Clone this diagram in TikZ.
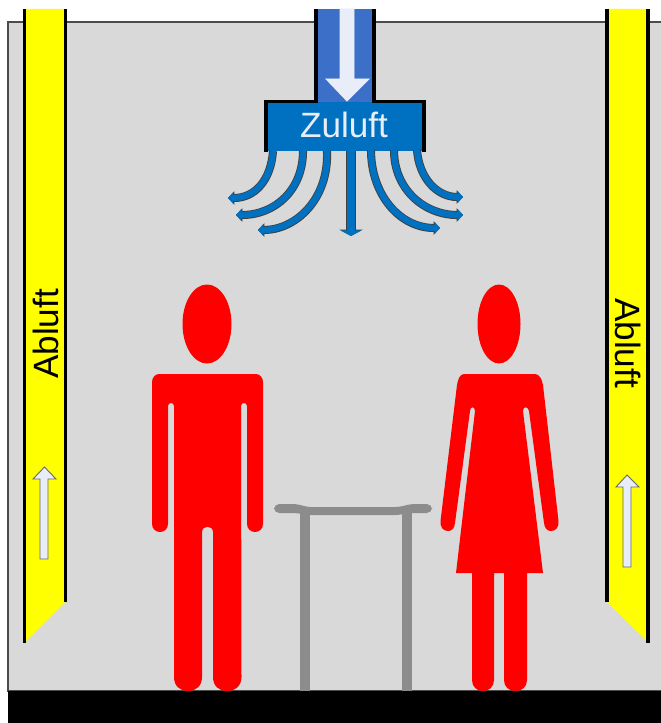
\documentclass[tikz,border=0pt]{standalone}
\usepackage{fontspec}
\setmainfont{Liberation Sans}
\usetikzlibrary{arrows.meta}
\definecolor{roomgray}{HTML}{D9D9D9}
\definecolor{ductblue}{HTML}{3C6FC8}
\definecolor{boxblue}{HTML}{0070C0}
\definecolor{tablegray}{HTML}{8C8C8C}
\definecolor{paleair}{HTML}{E8EDF7}
\definecolor{shaftyellow}{HTML}{FFFF00}
\definecolor{personred}{HTML}{FF0000}
\tikzset
{
  person/.style={fill=personred,draw=none},
  wallline/.style={draw=black,line width=2pt},
  duct/.style={wallline,line join=miter},
  airarrow/.style={fill=paleair,draw=#1,line width=0.5pt},
  label/.style={font=\fontsize{20}{20}\selectfont,inner sep=0pt},
  flow/.style={draw=boxblue,line width=3.6pt,-{Triangle[length=3pt,width=6.5pt]},
    preaction={draw=black!75,line width=4.6pt,-{Triangle[length=3.6pt,width=7.5pt]}}},
  flowmain/.style={draw=boxblue,line width=4.9pt,-{Triangle[length=3.2pt,width=12pt]},
    preaction={draw=black!75,line width=6pt,-{Triangle[length=3.6pt,width=13pt]}}},
  tablepart/.style={draw=tablegray,line width=5.6pt}
}
\begin{document}
\begin{tikzpicture}[x=0.02cm,y=-0.02cm]

    \useasboundingbox (0,0) rectangle (661,723);

    % Room and floor
    \fill[white] (0,0) rectangle (661,723);
    \draw[fill=roomgray,draw=black!70,line width=0.7pt] (8,22) rectangle (664,691);
    \fill[black] (8,691) rectangle (661,723);

    % Exhaust shaft on the left
    \fill[shaftyellow] (25,9) -- (65,9) -- (65,602) -- (25,642) -- cycle;
    \draw[wallline] (24.5,9) -- (24.5,643);
    \draw[wallline] (65.5,9) -- (65.5,602);

    % Exhaust shaft on the right
    \fill[shaftyellow] (607,9) -- (648,9) -- (648,642) -- (607,602) -- cycle;
    \draw[wallline] (607,9) -- (607,602);
    \draw[wallline] (648,9) -- (648,643);

    % Arrows in the shafts
    \draw[airarrow=black!60] (40,559) -- (48,559) -- (48,479) -- (56,479) -- (44.5,467) -- (33,479) -- (40,479) -- cycle;
    \draw[airarrow=black!60] (623,567) -- (631,567) -- (631,487) -- (639,487) -- (627,475) -- (616,487) -- (623,487) -- cycle;

    % Labels of the shafts
    \node[label,rotate=90] (abluftL) at (46,334) {Abluft};
    \node[label,rotate=-90] (abluftR) at (628,343) {Abluft};

    % Supply duct
    \fill[ductblue] (316,9) rectangle (374,104);
    \fill[boxblue] (266,102) rectangle (424,151);
    \draw[duct] (316,9) -- (316,101.5) -- (266,101.5) -- (266,152);
    \draw[duct] (374,9) -- (374,101.5) -- (424,101.5) -- (424,152);
    \draw[airarrow=paleair] (340,9) -- (354,9) -- (354,79) -- (369,79) -- (347,101) -- (326,79) -- (340,79) -- cycle;
    \node[label,text=paleair] (zuluft) at (344,125) {Zuluft};

    % Air leaving the duct
    \draw[flow] (273,151) .. controls (271,180) and (255,198) .. (228,198);
    \draw[flow] (303,151) .. controls (303,190) and (275,215) .. (236,215);
    \draw[flow] (327,151) .. controls (329,200) and (295,230) .. (258,230);
    \draw[flowmain] (351,151) -- (351,236);
    \draw[flow] (371,150) .. controls (371,195) and (400,228) .. (440,228);
    \draw[flow] (394,150) .. controls (394,190) and (425,215) .. (463,215);
    \draw[flow] (417,150) .. controls (419,178) and (437,197) .. (463,197);

    % Man
    \fill[person] (207,324) ellipse [x radius=24.5, y radius=39.5];
    \fill[person] (159,374) -- (256,374) .. controls (260,374) and (263,378) .. (263,382) -- (263,524)
      .. controls (263,529) and (259,532) .. (255,532) .. controls (251,532) and (247,529) .. (247,524)
      -- (247,406) .. controls (247,402) and (241,402) .. (241,406) -- (241.5,677)
      .. controls (241.5,686) and (235,691) .. (227,691) .. controls (219,691) and (213,686) .. (213,677)
      -- (213,532) .. controls (213,525) and (202,525) .. (202,532) -- (202,677)
      .. controls (202,686) and (196,691) .. (188,691) .. controls (180,691) and (174,686) .. (174,677)
      -- (174,406) .. controls (174,402) and (168,402) .. (168,406) -- (168,524)
      .. controls (168,529) and (164,532) .. (160,532) .. controls (156,532) and (152,529) .. (152,524)
      -- (152,382) .. controls (152,378) and (155,374) .. (159,374) -- cycle;

    % Woman
    \fill[person] (499,324) ellipse [x radius=21.5, y radius=39.5];
    \fill[person] (464,374) -- (535,374) .. controls (539,374) and (542,379) .. (543,385) -- (558.5,521)
      .. controls (559,527) and (556,531) .. (551,531) .. controls (547,531) and (544.5,528) .. (544,523)
      -- (529,411) .. controls (528,406) and (523,406) .. (523,411) -- (543,573) -- (527,573) -- (527,680)
      .. controls (527,687) and (522,691) .. (515.5,691) .. controls (509,691) and (504,687) .. (504,680)
      -- (504,573) -- (494,573) -- (494,680)
      .. controls (494,687) and (489,691) .. (483,691) .. controls (477,691) and (472,687) .. (472,680)
      -- (472,573) -- (456,573) -- (475,411) .. controls (475,406) and (470,406) .. (470,411)
      -- (455,523) .. controls (454.5,528) and (452,531) .. (448,531) .. controls (443,531) and (440,527) .. (440.5,521)
      -- (457,385) .. controls (458,379) and (460,374) .. (464,374) -- cycle;

    % Table
    \draw[tablepart] (305,510) -- (305,691);
    \draw[tablepart] (407,510) -- (407,691);
    \fill[tablegray,rounded corners=3pt] (274,504) -- (298,504) -- (306,507) -- (400,507) -- (410,504) -- (432,504) -- (432,513) -- (408,513) -- (400,515) -- (306,515) -- (298,513) -- (274,513) -- cycle;

\end{tikzpicture}
\end{document}
